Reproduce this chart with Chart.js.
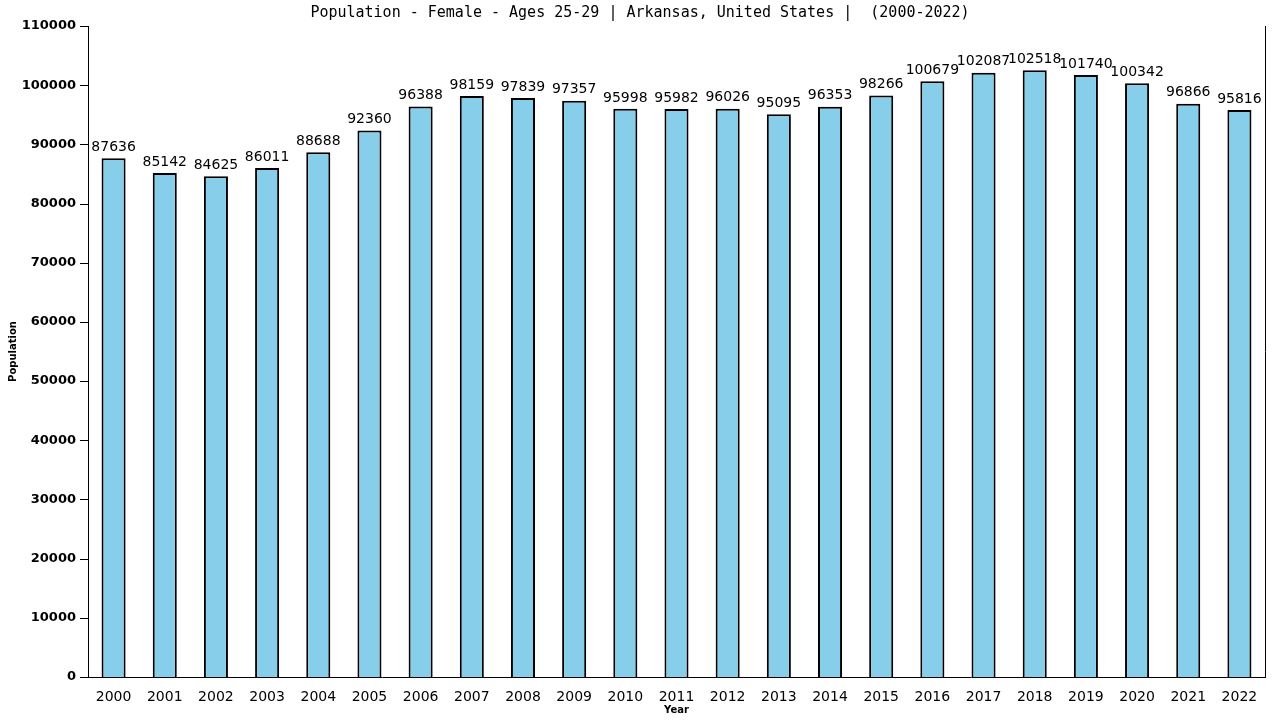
<!DOCTYPE html>
<html>
<head>
<meta charset="utf-8">
<script src="https://cdn.jsdelivr.net/npm/chart.js@4"></script>
<style>
  html, body { margin: 0; padding: 0; background: #fff; }
  #wrap { width: 1280px; height: 720px; }
</style>
</head>
<body>
<div id="wrap"><canvas id="popChart" width="1280" height="720"></canvas></div>
<script>
// Female population ages 25-29, Arkansas
const years = ['2000', '2001', '2002', '2003', '2004', '2005', '2006', '2007', '2008', '2009', '2010', '2011',
  '2012', '2013', '2014', '2015', '2016', '2017', '2018', '2019', '2020', '2021', '2022'];
const population = [87636, 85142, 84625, 86011, 88688, 92360, 96388, 98159, 97839, 97357, 95998, 95982,
  96026, 95095, 96353, 98266, 100679, 102087, 102518, 101740, 100342, 96866, 95816];
const yTicks = [0, 10000, 20000, 30000, 40000, 50000, 60000, 70000, 80000, 90000, 100000, 110000];
const titleText = 'Population - Female - Ages 25-29 | Arkansas, United States |  (2000-2022)';

// title, frame line, y tick marks and value labels above bars
const extras = {
  id: 'extras',
  afterDatasetsDraw(chart) {
    const { ctx, chartArea } = chart;
    const yScale = chart.scales.y;
    ctx.save();
    ctx.strokeStyle = '#000';
    ctx.lineWidth = 1;
    ctx.beginPath();
    ctx.moveTo(chartArea.right + 0.5, chartArea.top);
    ctx.lineTo(chartArea.right + 0.5, chartArea.bottom);
    yTicks.forEach(v => {
      const py = Math.round(yScale.getPixelForValue(v)) + 0.5;
      ctx.moveTo(chartArea.left - 8, py);
      ctx.lineTo(chartArea.left, py);
    });
    ctx.stroke();

    ctx.fillStyle = '#000';
    ctx.font = '15px "DejaVu Sans Mono"';
    ctx.textAlign = 'center';
    ctx.textBaseline = 'middle';
    ctx.fillText(titleText, 640, 13);

    ctx.font = '14px "DejaVu Sans"';
    ctx.textBaseline = 'bottom';
    chart.getDatasetMeta(0).data.forEach((bar, i) => {
      ctx.fillText(String(population[i]), bar.x, bar.y - 4);
    });
    ctx.restore();
  }
};

new Chart(document.getElementById('popChart'), {
  type: 'bar',
  data: {
    labels: years,
    datasets: [{
      data: population,
      backgroundColor: '#87CEEB',
      borderColor: '#000',
      borderWidth: { left: 2, top: 2, right: 2, bottom: 0 },
      barPercentage: 0.47,
      categoryPercentage: 1.0
    }]
  },
  options: {
    responsive: false,
    animation: false,
    layout: { padding: { top: 26, right: 15, bottom: 4, left: 7 } },
    plugins: { legend: { display: false }, tooltip: { enabled: false }, title: { display: false } },
    scales: {
      x: {
        grid: { display: false },
        border: { display: true, color: '#000', width: 1 },
        ticks: { color: '#000', font: { family: 'DejaVu Sans', size: 14 }, padding: 4, maxRotation: 0 },
        title: { display: true, text: 'Year', color: '#000', font: { family: 'DejaVu Sans', size: 10, weight: 'bold' }, padding: { top: 1, bottom: 0 } },
        afterFit(s) { s.height = 39; }
      },
      y: {
        min: 0,
        max: 110000,
        afterBuildTicks(s) { s.ticks = yTicks.map(v => ({ value: v })); },
        grid: { display: false },
        border: { display: true, color: '#000', width: 1 },
        ticks: {
          color: '#000',
          font: { family: 'DejaVu Sans', size: 13, weight: 'bold' },
          padding: 4,
          callback: v => String(v)
        },
        title: { display: true, text: 'Population', color: '#000', font: { family: 'DejaVu Sans', size: 10, weight: 'bold' }, padding: 0 },
        afterFit(s) { s.width = 81; }
      }
    }
  },
  plugins: [extras]
});
</script>
</body>
</html>
